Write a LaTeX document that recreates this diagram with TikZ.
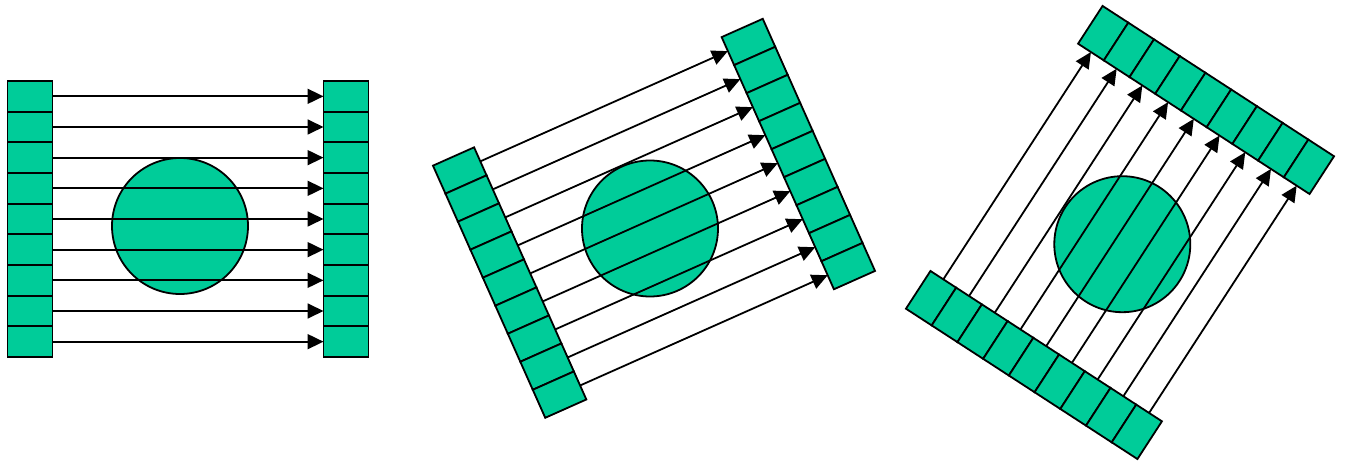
\documentclass[tikz,border=0pt]{standalone}
\usetikzlibrary{arrows.meta}
\definecolor{detgreen}{RGB}{0,204,153}
\begin{document}
\begin{tikzpicture}[x=1pt,y=1pt,
  cell/.style={draw=black, fill=detgreen, line width=1.8pt, minimum width=45pt, minimum height=30.67pt, inner sep=0pt, outer sep=0pt},
  obj/.style={draw=black, fill=detgreen, line width=1.8pt, circle, minimum size=136pt, inner sep=0pt, outer sep=0pt},
  ray/.style={line width=1.8pt, -{Triangle[length=16pt,width=15pt]}}]
\useasboundingbox (0,0) rectangle (1345,463);
\foreach \p/\cx/\cy/\ang/\ox/\oy in {A/188/244/0/180/237, B/654/244.7/24/650/234.5, C/1120/230.5/57/1122.3/218.8} {
  \node[obj] (\p obj) at (\ox,\oy) {};
  \begin{scope}[shift={(\cx,\cy)}, rotate=\ang, transform shape]
    \foreach \i in {1,...,9} {
      \node[cell] (\p s\i) at (-158, {138-30.667*(\i-0.5)}) {};
      \node[cell] (\p d\i) at (158, {138-30.667*(\i-0.5)}) {};
    }
  \end{scope}
  \foreach \i in {1,...,9} \draw[ray] (\p s\i.east) -- (\p d\i.west);
}
\end{tikzpicture}
\end{document}
